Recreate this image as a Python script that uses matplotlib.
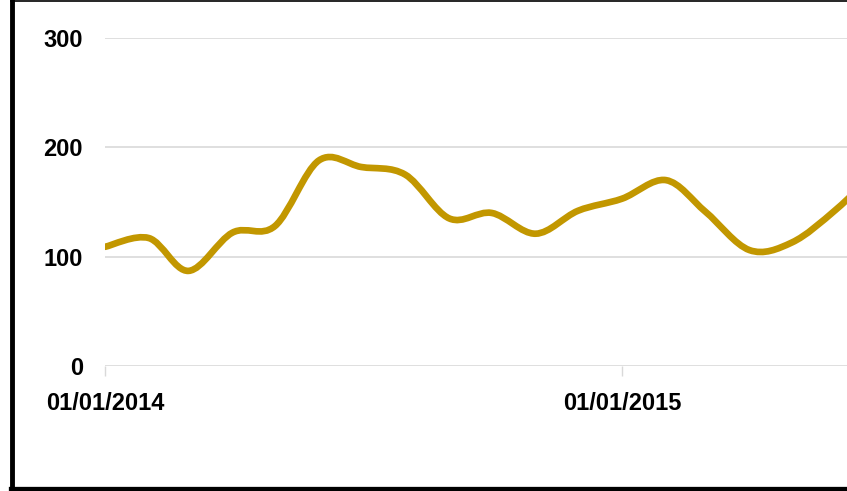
"""
plot.py

Smoothed monthly line, Excel-style, clipped on the right edge.
"""

import numpy as np
import matplotlib
matplotlib.use("Agg")
import matplotlib.pyplot as plt
import matplotlib.dates as mdates
from matplotlib.path import Path
from matplotlib.patches import PathPatch
from matplotlib.lines import Line2D

# --------------------------------------------------
# Data
# --------------------------------------------------
months = [
    "2014-01-01", "2014-02-01", "2014-03-01", "2014-04-01", "2014-05-01",
    "2014-06-01", "2014-07-01", "2014-08-01", "2014-09-01", "2014-10-01",
    "2014-11-01", "2014-12-01", "2015-01-01", "2015-02-01", "2015-03-01",
    "2015-04-01", "2015-05-01", "2015-06-01", "2015-07-01",
]
values = [109, 117, 87, 122, 128, 188, 182, 175, 135, 140,
          121, 142, 153, 170, 141, 106, 113, 143, 180]

tick_dates = ["2014-01-01", "2015-01-01"]
tick_labels = ["01/01/2014", "01/01/2015"]
y_ticks = [0, 100, 200, 300]

LINE_COLOR = "#C29700"
GRID_COLOR = "#D9D9D9"
FONT = ["Liberation Sans", "DejaVu Sans"]


def smooth_path(x, y):
    """Bezier path through the points (Catmull-Rom control points)."""
    pts = np.column_stack([x, y])
    n = len(pts)
    verts = [pts[0]]
    codes = [Path.MOVETO]
    for i in range(n - 1):
        p0 = pts[i - 1] if i > 0 else pts[i]
        p1 = pts[i]
        p2 = pts[i + 1]
        p3 = pts[i + 2] if i + 2 < n else pts[i + 1]
        c1 = p1 + (p2 - p0) / 6.0
        c2 = p2 - (p3 - p1) / 6.0
        verts += [c1, c2, p2]
        codes += [Path.CURVE4] * 3
    return Path(verts, codes)


def main():
    W, H = 847, 491
    plt.rcParams["font.family"] = FONT
    fig = plt.figure(figsize=(W / 100, H / 100), dpi=100)

    # plot area: left edge at x=105px, y=0 at 366px, y=300 at 38px
    ax = fig.add_axes([105 / W, (H - 366) / H, 1 - 105 / W, (366 - 38) / H])

    x = mdates.date2num(np.array(months, dtype="datetime64[D]"))
    patch = PathPatch(smooth_path(x, values), facecolor="none",
                      edgecolor=LINE_COLOR, lw=4.8, capstyle="round",
                      joinstyle="round", zorder=3)
    ax.add_patch(patch)

    x0 = mdates.date2num(np.datetime64("2014-01-01"))
    x1 = mdates.date2num(np.datetime64("2015-01-01"))
    ax.set_xlim(x0, x0 + (x1 - x0) * (W - 105) / 517)
    ax.set_ylim(0, 300)

    # --------------------------------------------------
    # Axes styling
    # --------------------------------------------------
    for s in ax.spines.values():
        s.set_visible(False)
    ax.set_yticks(y_ticks)
    ax.set_yticklabels([str(v) for v in y_ticks], fontsize=17,
                       fontweight="bold", family=FONT)
    ax.tick_params(axis="y", length=0, pad=16)
    for v in y_ticks:
        ax.axhline(v, color=GRID_COLOR, lw=1.2, zorder=1)

    ax.set_xticks(mdates.date2num(np.array(tick_dates, dtype="datetime64[D]")))
    ax.set_xticklabels(tick_labels, fontsize=17, fontweight="bold",
                       family=FONT)
    ax.tick_params(axis="x", length=7, width=1, color=GRID_COLOR, pad=12)

    # --------------------------------------------------
    # Frame around the chart (left, top, bottom)
    # --------------------------------------------------
    fig.add_artist(Line2D([11.5 / W, 11.5 / W], [0, 1], color="black",
                          lw=3.5, transform=fig.transFigure))
    fig.add_artist(Line2D([11 / W, 1], [1 - 0.8 / H, 1 - 0.8 / H],
                          color="black", lw=1.2, transform=fig.transFigure))
    fig.add_artist(Line2D([11 / W, 1], [2.5 / H, 2.5 / H], color="black",
                          lw=3.8, transform=fig.transFigure))

    fig.savefig("out.png", dpi=100)
    plt.close(fig)


if __name__ == "__main__":
    main()
